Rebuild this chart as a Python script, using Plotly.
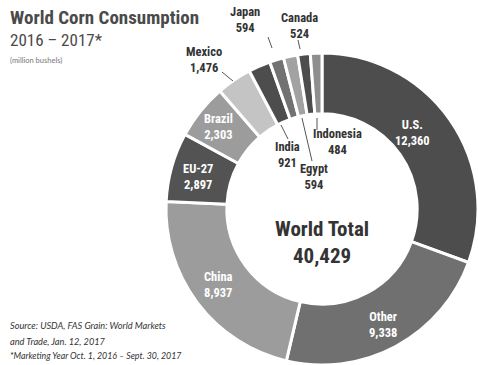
import plotly.graph_objects as go

# Corn consumption by country, marketing year 2016/17 (million bushels)
countries = ["U.S.", "Other", "China", "EU-27", "Brazil", "Mexico",
             "India", "Japan", "Egypt", "Canada", "Indonesia"]
consumption = [12360, 9338, 8937, 2897, 2303, 1476, 921, 594, 594, 524, 484]
world_total = 40429

slice_colors = ["#4d4d4d", "#707070", "#9c9c9c", "#535353", "#9c9c9c", "#c4c4c4",
                "#4d4d4d", "#727272", "#a2a2a2", "#4d4d4d", "#8e8e8e"]

W, H = 478, 365
CX, CY, R = 322, 209, 156      # donut centre and outer radius, px
HOLE = 0.61

NARROW = "Roboto Condensed, Liberation Sans Narrow, Arial Narrow, Roboto, sans-serif"


def px(x, y):
    return x / W, 1 - y / H


fig = go.Figure(go.Pie(
    labels=countries,
    values=consumption,
    sort=False,
    direction="clockwise",
    rotation=0,
    hole=HOLE,
    marker=dict(colors=slice_colors, line=dict(color="white", width=3)),
    textinfo="none",
    hoverinfo="label+value",
    showlegend=False,
    domain=dict(x=[(CX - R) / W, (CX + R) / W],
                y=[1 - (CY + R) / H, 1 - (CY - R) / H]),
))

annotations = []
shapes = []


def add_text(x, y, text, size, color, family=NARROW, align="center", xanchor="center"):
    ax, ay = px(x, y)
    annotations.append(dict(x=ax, y=ay, xref="paper", yref="paper", text=text,
                            showarrow=False, xanchor=xanchor, yanchor="middle",
                            align=align,
                            font=dict(family=family, size=size, color=color)))


# Slice labels: name over value
fmt = {c: f"{v:,}" for c, v in zip(countries, consumption)}
inside_pos = {"U.S.": (412, 133), "Other": (383, 324), "China": (218, 284),
              "EU-27": (198, 176), "Brazil": (218, 126)}
outside_pos = {"Mexico": (204, 59), "Japan": (245, 19), "Canada": (299, 25),
               "India": (287, 155), "Egypt": (314, 176), "Indonesia": (337, 142)}
leaders = {"Mexico": ((222, 72), (233, 81)), "Japan": ((268, 37), (272, 48)),
           "Canada": ((298, 40), (300, 49)), "India": ((288, 139), (281, 125)),
           "Egypt": ((312, 161), (302, 118)), "Indonesia": ((317, 130), (317, 118))}

for c, (x, y) in inside_pos.items():
    add_text(x, y, f"<b>{c}<br>{fmt[c]}</b>", 12.5, "white")
for c, (x, y) in outside_pos.items():
    add_text(x, y, f"<b>{c}<br>{fmt[c]}</b>", 12.5, "#333333")
for c, ((x0, y0), (x1, y1)) in leaders.items():
    a0, b0 = px(x0, y0)
    a1, b1 = px(x1, y1)
    shapes.append(dict(type="line", xref="paper", yref="paper", x0=a0, y0=b0,
                       x1=a1, y1=b1, line=dict(color="#555555", width=1)))

# Centre total
add_text(CX, 242, f"<b>World Total<br>{world_total:,}</b>", 21, "#333333")

# Title block
add_text(8, 17, "<b>World Corn Consumption</b>", 19, "#4a4a4a", align="left", xanchor="left")
add_text(8, 40, "2016 – 2017*", 17, "#4a4a4a", family=NARROW,
         align="left", xanchor="left")
add_text(8, 60, "(million bushels)", 7.5, "#777777", family="Lato, sans-serif",
         align="left", xanchor="left")

# Source notes
add_text(8, 325, "<i>Source: USDA, FAS Grain: World Markets</i>", 9.2, "#333333",
         family="Lato, sans-serif", align="left", xanchor="left")
add_text(8, 341, "<i>and Trade, Jan. 12, 2017</i>", 9.2, "#333333",
         family="Lato, sans-serif", align="left", xanchor="left")
add_text(8, 355, "<i>*Marketing Year Oct. 1, 2016 – Sept. 30, 2017</i>", 8.8, "#333333",
         family="Lato, sans-serif", align="left", xanchor="left")

fig.update_layout(
    width=W, height=H,
    margin=dict(l=0, r=0, t=0, b=0),
    paper_bgcolor="white",
    plot_bgcolor="white",
    annotations=annotations,
    shapes=shapes,
)

fig.write_html("out.html")
